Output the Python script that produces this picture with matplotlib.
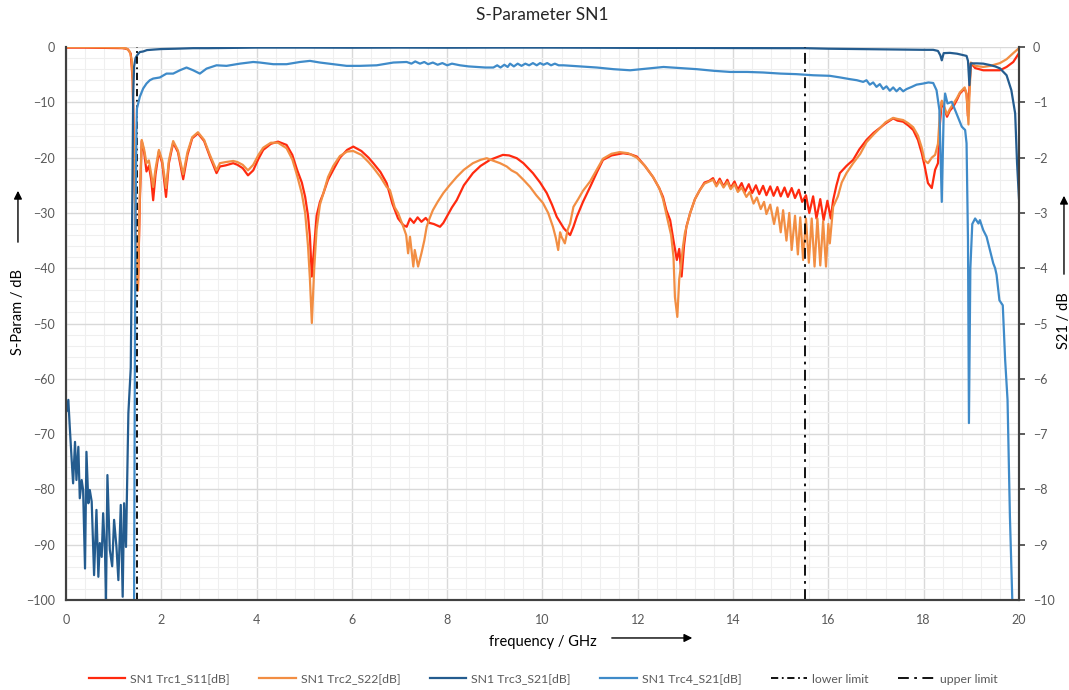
import numpy as np
import matplotlib.pyplot as plt
from matplotlib.ticker import MultipleLocator

plt.rcParams['font.family'] = ['Lato', 'DejaVu Sans']

# ----------------------------
# Data
# ----------------------------
s11_f = [0.0, 0.4, 0.8, 1.2, 1.3, 1.36, 1.40, 1.43, 1.47, 1.51, 1.55, 1.59, 1.64, 1.69, 1.74, 1.79,
         1.83, 1.88, 1.95, 2.02, 2.10, 2.16, 2.25, 2.35, 2.46, 2.55, 2.65, 2.77, 2.9, 3.02, 3.16, 3.23,
         3.35, 3.51, 3.6, 3.71, 3.82, 3.93, 4.04, 4.14, 4.3, 4.45, 4.63, 4.75, 4.85, 4.95, 5.02, 5.08,
         5.12, 5.16, 5.21, 5.26, 5.33, 5.40, 5.5, 5.61, 5.75, 5.9, 6.03, 6.2, 6.35, 6.45, 6.6, 6.73,
         6.85, 6.97, 7.08, 7.15, 7.22, 7.3, 7.38, 7.46, 7.55, 7.63, 7.72, 7.85, 7.92, 7.99, 8.1, 8.2,
         8.35, 8.54, 8.7, 8.9, 9.17, 9.3, 9.46, 9.6, 9.8, 9.95, 10.09, 10.2, 10.3, 10.45, 10.58, 10.65,
         10.72, 10.85, 11.0, 11.15, 11.27, 11.45, 11.69, 11.85, 11.98, 12.15, 12.32, 12.45, 12.53, 12.6,
         12.68, 12.75, 12.82, 12.87, 12.92, 12.97, 13.02, 13.1, 13.2, 13.3, 13.4, 13.5, 13.58, 13.65,
         13.72, 13.8, 13.88, 13.95, 14.03, 14.1, 14.18, 14.25, 14.33, 14.4, 14.48, 14.55, 14.63, 14.7,
         14.78, 14.85, 14.93, 15.0, 15.08, 15.15, 15.23, 15.3, 15.38, 15.45, 15.53, 15.6, 15.68, 15.75,
         15.83, 15.9, 15.98, 16.05, 16.1, 16.17, 16.24, 16.38, 16.52, 16.65, 16.8, 16.95, 17.1, 17.2,
         17.36, 17.45, 17.57, 17.68, 17.78, 17.88, 17.96, 18.02, 18.09, 18.17, 18.24, 18.3, 18.34, 18.38,
         18.42, 18.49, 18.55, 18.62, 18.7, 18.76, 18.86, 18.9, 18.93, 18.95, 18.99, 19.08, 19.25, 19.4,
         19.6, 19.74, 19.88, 20.0]
s11_db = [-0.1, -0.1, -0.15, -0.2, -0.4, -1.2, -6, -20, -36, -44, -28, -17, -19, -22.5, -21.5, -24,
          -27.7, -23, -18.9, -21, -27.1, -21, -17.3, -19, -23.9, -19.5, -16.5, -15.6, -17, -19.8, -22.8, -21.6,
          -21.4, -21.0, -21.3, -21.9, -23.2, -22.3, -20.2, -18.6, -17.5, -17.1, -17.7, -19.5, -22.2, -24.5, -27.1, -30.5,
          -34.3, -41.5, -36, -30.5, -28, -26.5, -24, -22.2, -20, -18.6, -18.0, -18.8, -20.0, -21.0, -22.6, -24.6,
          -28.3, -31.0, -32.2, -32.5, -31.0, -31.8, -30.8, -31.6, -30.9, -31.8, -32.0, -32.5, -31.8, -30.7, -29, -27.7,
          -25, -22.8, -21.5, -20.4, -19.5, -19.6, -20.1, -21.0, -22.8, -24.5, -26.4, -28.5, -30.7, -32.8, -34.0, -32.5,
          -30.7, -28, -25.3, -22.5, -20.4, -19.6, -19.2, -19.4, -19.8, -21.5, -23.5, -25.5, -27.1, -29.5,
          -31.3, -35, -38.5, -36.5, -41.5, -36, -32.5, -30.0, -27.5, -25.9, -24.5, -24.2, -23.7, -25,
          -23.8, -25.2, -24.0, -25.5, -24.3, -25.8, -24.6, -26.2, -24.8, -26.4, -25.0, -26.6, -25.1, -26.8,
          -25.2, -26.9, -25.3, -27.0, -25.4, -27.1, -25.5, -27.3, -25.8, -28.0, -26.8, -30.0, -27.0, -31.0,
          -27.5, -31.3, -27.8, -31.0, -27.7, -25, -22.8, -21.5, -20.4, -18.5, -16.8, -15.5, -14.5, -13.8,
          -12.9, -13.3, -13.5, -14.2, -15.0, -16.8, -19.2, -21.5, -24.6, -25.5, -22.2, -21.0, -14, -9.9,
          -10.8, -12.6, -11.5, -10.8, -9.5, -8.4, -7.5, -8.5, -12.5, -9, -2.9, -3.8, -4.2, -4.2,
          -4.2, -3.6, -2.7, -1.1]

s22_f = [0.0, 0.4, 0.8, 1.1, 1.27, 1.34, 1.38, 1.40, 1.43, 1.47, 1.51, 1.55, 1.59, 1.64, 1.69, 1.74,
         1.79, 1.83, 1.88, 1.95, 2.02, 2.10, 2.16, 2.25, 2.35, 2.46, 2.55, 2.65, 2.77, 2.9, 3.02, 3.16,
         3.23, 3.35, 3.51, 3.6, 3.71, 3.82, 3.93, 4.04, 4.14, 4.3, 4.45, 4.63, 4.75, 4.85, 4.95, 5.02,
         5.08, 5.12, 5.16, 5.21, 5.26, 5.33, 5.40, 5.5, 5.61, 5.75, 5.9, 6.03, 6.2, 6.35, 6.45, 6.6,
         6.73, 6.80, 6.9, 6.97, 7.08, 7.14, 7.18, 7.22, 7.29, 7.32, 7.39, 7.46, 7.52, 7.57, 7.63, 7.70,
         7.8, 7.92, 8.05, 8.2, 8.35, 8.54, 8.7, 8.83, 8.95, 9.11, 9.25, 9.35, 9.46, 9.6, 9.74, 9.87,
         10.01, 10.12, 10.22, 10.28, 10.33, 10.37, 10.4, 10.47, 10.53, 10.58, 10.65, 10.75, 10.85, 11.0,
         11.15, 11.27, 11.45, 11.62, 11.8, 11.98, 12.15, 12.32, 12.45, 12.53, 12.62, 12.7, 12.75, 12.78,
         12.83, 12.87, 12.9, 12.95, 12.99, 13.1, 13.2, 13.3, 13.4, 13.5, 13.58, 13.65, 13.72, 13.8,
         13.88, 13.95, 14.03, 14.1, 14.18, 14.28, 14.35, 14.43, 14.5, 14.58, 14.65, 14.7, 14.78, 14.86,
         14.93, 15.0, 15.05, 15.12, 15.18, 15.23, 15.3, 15.36, 15.41, 15.47, 15.53, 15.59, 15.65, 15.71,
         15.77, 15.83, 15.89, 15.95, 16.0, 16.03, 16.1, 16.2, 16.28, 16.38, 16.52, 16.67, 16.8, 16.95,
         17.1, 17.2, 17.36, 17.45, 17.57, 17.68, 17.78, 17.88, 17.96, 18.02, 18.09, 18.17, 18.24, 18.3,
         18.34, 18.38, 18.42, 18.49, 18.55, 18.62, 18.7, 18.76, 18.86, 18.9, 18.94, 18.96, 18.99, 19.08,
         19.25, 19.4, 19.6, 19.74, 19.88, 20.0]
s22_db = [0.0, 0.0, -0.05, -0.1, -0.24, -0.84, -2.3, -6, -20, -36, -44, -27, -16.8, -18.5, -21, -20.5,
          -23, -25.3, -22, -18.6, -20.5, -25.5, -20.5, -17.0, -18.7, -23.0, -19, -16.3, -15.4, -16.8, -19.5, -22.3,
          -21.0, -20.8, -20.6, -20.8, -21.3, -22.3, -21.3, -19.5, -18.2, -17.3, -17.3, -18.3, -20.3, -23.2, -26.5, -30,
          -36, -42, -49.9, -40, -33, -28.5, -26.5, -23.5, -21.5, -19.7, -18.9, -18.8, -19.5, -20.8, -21.8, -23.5,
          -25.3, -25.9, -29, -30.0, -32.5, -34, -37.3, -34.3, -39.7, -36.7, -39.7, -37.3, -35, -32.5, -31, -29.5,
          -28, -26.4, -25, -23.5, -22.2, -21.0, -20.4, -20.1, -20.5, -21.0, -21.6, -22.3, -22.8, -24, -25.3, -26.8,
          -28.2, -30, -32.5, -34.5, -36.7, -33.5, -34.3, -35.5, -33, -31.9, -28.9, -27.5, -26, -24.3,
          -22, -20.2, -19.3, -19.0, -19.2, -20.0, -21.5, -23.5, -25.5, -27.5, -31, -34, -38, -45.2,
          -48.8, -42, -40, -36, -33.6, -30, -27.5, -25.9, -24.7, -24.3, -24.0, -25.2, -24.2, -25.4,
          -24.4, -25.7, -24.8, -26.2, -25.4, -27.1, -26.2, -28.3, -27.2, -29.3, -28.0, -30.2, -28.5, -32,
          -29, -33.5, -29.5, -35, -30, -36.7, -30.5, -37.5, -30.8, -38.5, -31, -39, -31, -39.7,
          -31, -39.5, -31.5, -39.7, -32, -35.5, -28.9, -27, -24.5, -22.8, -21, -19.3, -17.2, -15.8,
          -14.5, -13.6, -12.8, -13.0, -13.2, -13.8, -14.5, -16.0, -18.2, -20.5, -21.0, -20.0, -19.5, -17.5,
          -12, -9.7, -10.5, -12.2, -11.2, -10.3, -9.2, -8.2, -7.3, -8.5, -14.0, -9, -2.8, -3.4,
          -3.6, -3.4, -2.9, -2.2, -1.1, -0.2]

s21_f = [0.0, 0.01, 0.05, 0.08, 0.12, 0.15, 0.19, 0.22, 0.26, 0.29, 0.33, 0.36, 0.40, 0.43, 0.47, 0.50,
         0.54, 0.59, 0.64, 0.68, 0.71, 0.75, 0.78, 0.82, 0.84, 0.87, 0.92, 0.97, 1.01, 1.06, 1.10, 1.15,
         1.19, 1.22, 1.26, 1.31, 1.36, 1.38, 1.40, 1.41, 1.43, 1.46, 1.50, 1.55, 1.62, 1.7, 1.85, 2.0,
         2.3, 2.67, 3.0, 3.5, 4.0, 5.0, 6.0, 7.0, 8.0, 9.0, 10.0, 11.0, 12.0, 13.0, 14.0, 15.0,
         15.5, 16.0, 16.5, 17.0, 17.5, 18.0, 18.2, 18.3, 18.35, 18.38, 18.42, 18.55, 18.7, 18.8, 18.9, 18.93,
         18.96, 18.99, 19.12, 19.25, 19.39, 19.5, 19.6, 19.74, 19.84, 19.92, 19.96, 20.0]
s21_db = [-64.5, -65.9, -63.8, -68.7, -74.7, -78.9, -71.4, -78.3, -72.3, -81.6, -78.3, -80.1, -94.3, -73.2, -82.5, -80.1,
          -82.2, -95.5, -83.7, -95.8, -89.7, -92.2, -84.3, -91.6, -100, -77.4, -90.9, -93.9, -85.5, -90.4, -96.4, -82.8,
          -99.4, -82.5, -90.4, -66.2, -58, -40, -20, -9, -3.5, -2.0, -1.4, -0.9, -0.8, -0.55, -0.45, -0.36,
          -0.3, -0.2, -0.2, -0.15, -0.1, -0.1, -0.12, -0.1, -0.12, -0.1, -0.1, -0.12, -0.15, -0.15, -0.18, -0.2,
          -0.2, -0.3, -0.35, -0.4, -0.45, -0.5, -0.5, -0.7, -1.5, -2.4, -1.1, -1.05, -1.2, -1.4, -1.6, -2.5,
          -6.9, -2.95, -2.95, -3.0, -3.25, -3.5, -3.85, -5.1, -7.8, -12.0, -21, -27.4]

# Trc4: same S21 on the zoomed right axis
s21z_f = [1.40, 1.43, 1.445, 1.46, 1.48, 1.49, 1.55, 1.62, 1.69, 1.76, 1.83, 1.97, 2.11, 2.25, 2.39, 2.53,
          2.67, 2.81, 2.95, 3.16, 3.37, 3.65, 3.93, 4.07, 4.35, 4.63, 4.91, 5.12, 5.33, 5.61, 5.89, 6.17,
          6.52, 6.87, 7.15, 7.25, 7.33, 7.43, 7.52, 7.6, 7.7, 7.8, 7.9, 8.0, 8.1, 8.27, 8.45, 8.62,
          8.8, 8.97, 9.05, 9.12, 9.2, 9.27, 9.32, 9.4, 9.48, 9.56, 9.64, 9.72, 9.8, 9.88, 9.95, 10.02,
          10.1, 10.18, 10.26, 10.34, 10.44, 10.8, 11.14, 11.49, 11.84, 12.2, 12.54, 12.9, 13.24, 13.6,
          13.94, 14.3, 14.63, 15.0, 15.33, 15.68, 16.03, 16.25, 16.45, 16.6, 16.73, 16.8, 16.87, 16.94,
          17.01, 17.08, 17.15, 17.22, 17.29, 17.36, 17.43, 17.5, 17.57, 17.64, 17.75, 17.85, 17.99, 18.1,
          18.2, 18.27, 18.33, 18.38, 18.42, 18.45, 18.5, 18.59, 18.66, 18.73, 18.8, 18.87, 18.9, 18.93,
          18.95, 18.98, 19.02, 19.08, 19.15, 19.18, 19.25, 19.32, 19.39, 19.46, 19.5, 19.53, 19.59, 19.66,
          19.71, 19.76, 19.81, 19.86, 19.9]
s21z_db = [-12, -10, -6, -3, -1.5, -1.11, -0.90, -0.75, -0.66, -0.6, -0.57, -0.55, -0.48, -0.48, -0.42, -0.37,
           -0.42, -0.48, -0.39, -0.33, -0.34, -0.30, -0.27, -0.28, -0.31, -0.31, -0.27, -0.25, -0.28, -0.31, -0.34, -0.34,
           -0.33, -0.28, -0.27, -0.3, -0.26, -0.30, -0.27, -0.31, -0.28, -0.32, -0.29, -0.33, -0.30, -0.33, -0.35, -0.36,
           -0.37, -0.37, -0.33, -0.37, -0.32, -0.36, -0.30, -0.35, -0.30, -0.34, -0.30, -0.33, -0.29, -0.33, -0.29, -0.32,
           -0.29, -0.33, -0.30, -0.33, -0.33, -0.35, -0.37, -0.40, -0.42, -0.39, -0.36, -0.38, -0.40, -0.43,
           -0.45, -0.45, -0.46, -0.48, -0.49, -0.51, -0.52, -0.55, -0.58, -0.6, -0.63, -0.6, -0.68, -0.64,
           -0.72, -0.67, -0.76, -0.71, -0.79, -0.73, -0.80, -0.74, -0.80, -0.76, -0.72, -0.68, -0.66, -0.64,
           -0.65, -0.78, -1.14, -2.8, -1.2, -0.84, -1.02, -0.99, -1.14, -1.29, -1.44, -1.50, -1.74, -3.5,
           -6.8, -4.0, -3.2, -3.10, -3.19, -3.13, -3.31, -3.43, -3.67, -3.91, -4.0, -4.12, -4.58, -4.67,
           -5.66, -6.38, -8.49, -10.0, -11]

limit_f = [1.5, 15.5]
labels = ["SN1 Trc1_S11[dB]", "SN1 Trc2_S22[dB]", "SN1 Trc3_S21[dB]", "SN1 Trc4_S21[dB]",
          "lower limit", "upper limit"]

# ----------------------------
# Plot
# ----------------------------
fig = plt.figure(figsize=(10.69, 6.9), dpi=100)
ax = fig.add_axes([0.0617, 0.1304, 0.8915, 0.8014])
ax2 = ax.twinx()

red, orange, dblue, lblue = "#FF2A0F", "#F28E43", "#245C8F", "#3F8BC9"
grey = "#595959"
lw = 1.6

l1, = ax.plot(s11_f, s11_db, color=red, lw=lw)
l2, = ax.plot(s22_f, s22_db, color=orange, lw=lw)
l3, = ax.plot(s21_f, s21_db, color=dblue, lw=lw)
l5 = ax.axvline(limit_f[0], color="black", lw=1.3, ls=(0, (4, 2, 1, 2)), zorder=5)
l6 = ax.axvline(limit_f[1], color="black", lw=1.3, ls=(0, (6, 3, 1.5, 3)), zorder=5)
l4, = ax2.plot(s21z_f, s21z_db, color=lblue, lw=lw)

ax.set_xlim(0, 20)
ax.set_ylim(-100, 0)
ax2.set_ylim(-10, 0)

ax.xaxis.set_major_locator(MultipleLocator(2))
ax.xaxis.set_minor_locator(MultipleLocator(0.4))
ax.yaxis.set_major_locator(MultipleLocator(10))
ax.yaxis.set_minor_locator(MultipleLocator(2))
ax2.yaxis.set_major_locator(MultipleLocator(1))

ax.grid(True, which="major", color="#D9D9D9", lw=1.0)
ax.grid(True, which="minor", color="#EFEFEF", lw=0.8)
ax.set_axisbelow(True)

for a in (ax, ax2):
    a.spines["top"].set_visible(False)
    for s in ("left", "bottom", "right"):
        a.spines[s].set_color("#404040")
        a.spines[s].set_linewidth(1.5)

ax.tick_params(which="both", length=0, labelsize=9, colors=grey)
ax.tick_params(axis="y", pad=8)
ax.tick_params(axis="x", pad=10)
ax2.tick_params(axis="y", which="major", length=4, width=1.2, color="#404040",
                labelsize=9, labelcolor=grey, pad=6)
ax2.tick_params(axis="y", which="minor", length=0)

fig.text(0.5075, 0.978, "S-Parameter SN1", ha="center", va="center", fontsize=12.5, color="#262626")

# axis labels with arrows
fig.text(0.0168, 0.548, "S-Param / dB", rotation=90, ha="center", va="center", fontsize=10.5, color="black")
fig.text(0.9953, 0.535, "S21 / dB", rotation=90, ha="center", va="center", fontsize=10.5, color="black")
fig.text(0.508, 0.070, "frequency / GHz", ha="center", va="center", fontsize=10.5, color="black")
arr = dict(arrowstyle="-|>", color="black", lw=1.0, mutation_scale=12)
ax.annotate("", xy=(0.0168, 0.7275), xytext=(0.0168, 0.645), xycoords="figure fraction",
            textcoords="figure fraction", arrowprops=arr, annotation_clip=False)
ax.annotate("", xy=(0.9953, 0.7203), xytext=(0.9953, 0.5986), xycoords="figure fraction",
            textcoords="figure fraction", arrowprops=arr, annotation_clip=False)
ax.annotate("", xy=(0.6502, 0.0754), xytext=(0.5697, 0.0754), xycoords="figure fraction",
            textcoords="figure fraction", arrowprops=arr, annotation_clip=False)

fig.legend([l1, l2, l3, l4, l5, l6], labels, loc="lower center", bbox_to_anchor=(0.508, -0.008),
           ncol=6, frameon=False, fontsize=8.8, handlelength=3.0, handletextpad=0.4,
           columnspacing=2.4, labelcolor=grey)

plt.savefig("out.png", dpi=100)
